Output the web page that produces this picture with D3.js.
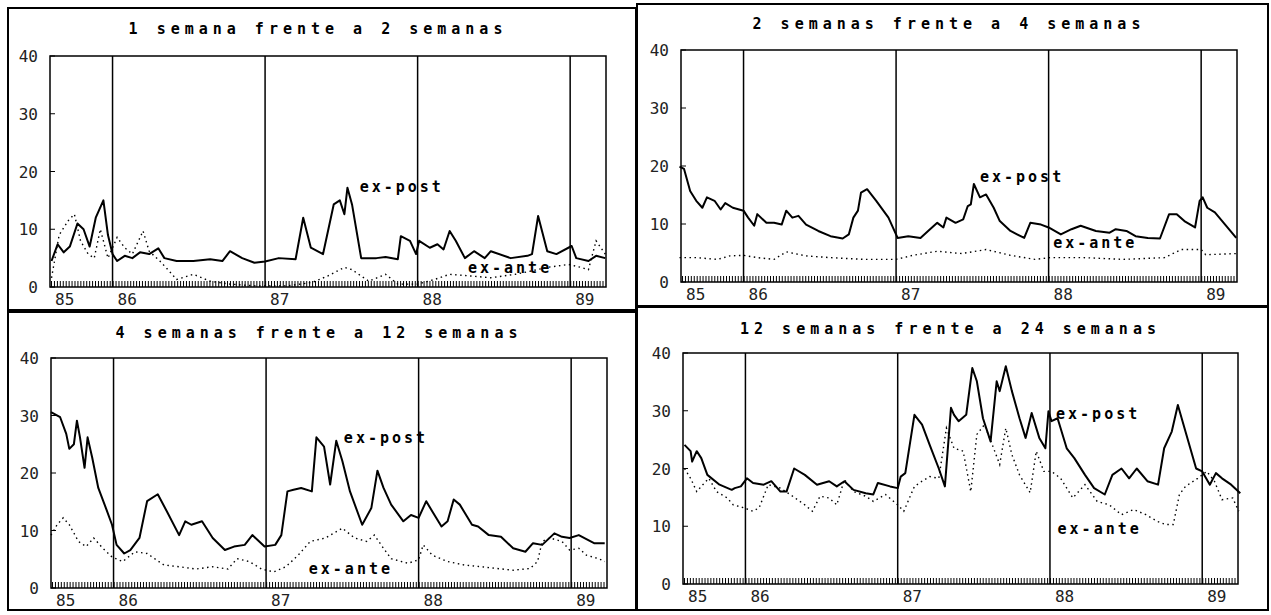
<!DOCTYPE html>
<html lang="es">
<head>
<meta charset="UTF-8">
<title>Primas ex-post / ex-ante</title>
<script src="https://d3js.org/d3.v7.min.js"></script>
<style>
    body { margin: 0; padding: 0; background: #fff; }
    svg { font-family: "DejaVu Sans Mono", monospace; }
    .title { font-size: 15px; font-weight: bold; letter-spacing: 5px; }
    .tick-label { font-size: 16px; fill: #222; }
    .ex-post { fill: none; stroke: #000; stroke-width: 2px; stroke-linejoin: round; }
    .ex-ante { fill: none; stroke: #000; stroke-width: 1.4px; stroke-dasharray: 1.5 3.5; }
    .note { font-size: 15px; font-weight: bold; letter-spacing: 3px; }
</style>
</head>
<body>
<div id="chart"></div>
<script>
    const yearTicks = [1986, 1987, 1988, 1989];
    const yearLabels = ["85", "86", "87", "88", "89"];
    const valueTicks = [0, 10, 20, 30, 40];
    const titles = [
        "1 semana frente a 2 semanas",
        "2 semanas frente a 4 semanas",
        "4 semanas frente a 12 semanas",
        "12 semanas frente a 24 semanas"
    ];

    // [decimal year, value]
    const expost1 = [[85.60,4.5],[85.64,7.4],[85.68,6],[85.72,7],[85.77,11],[85.81,10],[85.85,7],[85.89,12],[85.94,15],[85.97,9],
        [86.00,5.7],[86.03,4.5],[86.08,5.4],[86.13,5],[86.18,6],[86.24,5.7],[86.30,6.7],[86.34,5],[86.42,4.5],[86.53,4.5],
        [86.64,4.8],[86.72,4.5],[86.77,6.2],[86.85,5],[86.93,4.2],[87.00,4.4],[87.09,5],[87.20,4.8],[87.25,12],[87.30,6.8],
        [87.38,5.7],[87.45,14.3],[87.49,15],[87.52,12.6],[87.54,17.2],[87.57,14.3],[87.63,5],[87.73,5],[87.79,5.2],[87.87,4.8],
        [87.89,8.8],[87.95,8],[87.99,5.7],[88.01,8],[88.08,6.8],[88.13,7.4],[88.17,6.5],[88.21,9.7],[88.25,8],[88.31,5],
        [88.37,6.2],[88.44,5],[88.48,6.2],[88.61,5],[88.72,5.4],[88.75,5.7],[88.79,12.3],[88.85,6.2],[88.91,5.7],[89.01,7.1],
        [89.04,5],[89.12,4.5],[89.17,5.4],[89.23,5]];
    const exante1 = [[85.60,1.6],[85.65,9],[85.71,11.5],[85.75,12.6],[85.79,8],[85.84,5.7],[85.88,5],[85.92,10],[85.97,5],
        [86.03,8.6],[86.08,6.8],[86.13,5.7],[86.20,9.7],[86.24,6.2],[86.31,4.5],[86.37,2.8],[86.42,1.3],[86.53,2.2],[86.64,1],
        [86.77,0.5],[86.93,0.2],[87.15,0.2],[87.31,0.8],[87.41,1.9],[87.52,3.4],[87.57,3],[87.68,1],[87.79,2.2],[87.87,0.5],
        [88.00,0.5],[88.11,1.3],[88.21,2.2],[88.35,1.9],[88.48,1.6],[88.64,2.2],[88.75,2.8],[88.85,3.4],[88.99,3.9],[89.07,3.4],
        [89.12,3],[89.17,8],[89.23,5.7]];

    const expost2 = [[85.58,19.9],[85.61,19.5],[85.65,15.7],[85.69,14],[85.73,12.8],[85.76,14.6],[85.81,14],[85.85,12.5],[85.88,13.6],[85.93,12.8],
        [86.00,12.3],[86.03,11.1],[86.07,9.7],[86.09,11.7],[86.15,10.2],[86.20,10.2],[86.25,9.9],[86.28,12.3],[86.32,11.1],[86.36,11.4],
        [86.41,9.9],[86.49,8.8],[86.57,7.9],[86.65,7.5],[86.69,8.2],[86.72,11.1],[86.75,12.3],[86.77,15.4],[86.81,16],[86.87,14],
        [86.95,11.1],[87.01,7.6],[87.08,7.9],[87.16,7.6],[87.21,8.8],[87.27,10.2],[87.31,9.4],[87.33,11.1],[87.39,10.2],[87.44,10.8],
        [87.47,13.1],[87.49,13.4],[87.51,16.9],[87.55,14.6],[87.59,15.1],[87.64,12.8],[87.68,10.5],[87.75,8.8],[87.84,7.6],[87.88,10.2],
        [87.95,9.9],[88.00,9.4],[88.08,8.2],[88.15,9.1],[88.21,9.7],[88.31,8.8],[88.40,8.5],[88.44,9.1],[88.51,8.8],[88.57,7.9],
        [88.65,7.6],[88.73,7.5],[88.79,11.7],[88.84,11.7],[88.89,10.5],[88.96,9.4],[88.99,14],[89.01,14.6],[89.04,12.8],[89.09,12],[89.23,7.6]];
    const exante2 = [[85.58,4.2],[85.69,4.2],[85.83,3.9],[85.91,4.5],[86.00,4.6],[86.09,4.2],[86.20,3.9],[86.28,5.2],[86.41,4.5],
        [86.57,4.2],[86.79,3.9],[87.00,3.9],[87.11,4.6],[87.27,5.3],[87.43,4.9],[87.59,5.6],[87.75,4.6],[87.91,3.9],[88.01,4.2],
        [88.23,4.2],[88.49,3.9],[88.76,4.2],[88.87,5.6],[89.00,5.6],[89.03,4.7],[89.23,4.9]];

    const expost3 = [[85.59,30.6],[85.65,29.7],[85.69,26.8],[85.71,24.2],[85.74,25],[85.76,29.1],[85.78,26.2],[85.81,20.9],[85.83,26.2],[85.86,22.7],
        [85.90,17.4],[85.95,13.9],[85.99,11],[86.02,7.5],[86.07,6],[86.11,6.6],[86.17,8.7],[86.22,15.1],[86.29,16.3],[86.35,13.3],
        [86.43,9.2],[86.47,11.6],[86.51,11],[86.58,11.6],[86.65,8.7],[86.73,6.6],[86.79,7.2],[86.86,7.5],[86.91,9.2],[86.99,7.2],
        [87.06,7.5],[87.10,9.2],[87.14,16.8],[87.18,17.1],[87.23,17.4],[87.30,16.8],[87.33,26.2],[87.38,24.6],[87.42,18],[87.46,25.6],
        [87.50,22.1],[87.55,16.8],[87.63,11],[87.69,13.9],[87.73,20.4],[87.77,17.4],[87.82,14.5],[87.90,11.6],[87.95,12.7],[88.00,12.2],
        [88.05,15.1],[88.09,13.3],[88.15,10.7],[88.19,11.6],[88.23,15.4],[88.27,14.5],[88.35,11],[88.39,10.7],[88.46,9.2],[88.54,8.9],
        [88.62,6.9],[88.70,6.3],[88.75,7.8],[88.81,7.5],[88.89,9.5],[88.94,8.9],[88.99,8.7],[89.05,9.2],[89.15,7.8],[89.22,7.8]];
    const exante3 = [[85.59,9.2],[85.63,11],[85.67,12.2],[85.71,11],[85.77,8.1],[85.82,7.2],[85.87,8.7],[85.93,6.9],[85.99,5.4],
        [86.06,4.6],[86.14,6.3],[86.22,6],[86.33,4],[86.43,3.7],[86.54,3.3],[86.65,3.7],[86.75,3.3],[86.81,5.1],[86.89,4.6],
        [86.97,3.3],[87.05,2.8],[87.13,3.7],[87.21,5.7],[87.29,8.1],[87.39,8.7],[87.50,10.4],[87.58,8.7],[87.66,8.1],[87.71,9.2],
        [87.77,6.9],[87.82,5.1],[87.93,4.3],[88.00,4.9],[88.03,7.5],[88.09,5.7],[88.19,4.6],[88.30,4],[88.41,3.7],[88.51,3.4],
        [88.62,3.1],[88.73,3.4],[88.78,4.6],[88.81,8.1],[88.86,8.7],[88.94,8.1],[88.99,6.6],[89.05,6.9],[89.10,5.7],[89.18,5.1],[89.22,4.6]];

    const expost4 = [[85.60,24.1],[85.64,23],[85.65,21.2],[85.68,23],[85.71,21.8],[85.75,18.9],[85.83,17.2],[85.91,16.3],[85.93,16.6],[85.97,16.9],
        [86.01,18.3],[86.05,17.5],[86.12,17.2],[86.17,17.8],[86.23,16],[86.27,16],[86.32,20],[86.39,18.9],[86.47,17.2],[86.55,17.8],
        [86.60,16.9],[86.65,17.8],[86.71,16.3],[86.79,15.7],[86.84,15.5],[86.87,17.5],[86.95,16.9],[87.00,16.6],[87.02,18.6],[87.05,19.2],
        [87.11,29.3],[87.16,27.6],[87.21,24.1],[87.27,20],[87.31,16.9],[87.35,30.5],[87.37,29.3],[87.40,28.2],[87.45,29.3],[87.49,37.4],
        [87.52,35.1],[87.56,28.7],[87.61,24.7],[87.65,35.1],[87.67,33.4],[87.71,37.7],[87.75,33.4],[87.80,28.7],[87.84,25.3],[87.88,29.6],
        [87.93,25.3],[87.97,23.5],[87.99,29.9],[88.01,28.2],[88.05,28.7],[88.11,23.5],[88.16,21.8],[88.23,18.9],[88.29,16.6],[88.36,15.5],
        [88.41,18.9],[88.47,20],[88.52,18.3],[88.57,20],[88.64,17.8],[88.71,17.2],[88.75,23.5],[88.80,26.4],[88.84,31],[88.89,26.4],
        [88.96,20],[89.00,19.5],[89.05,17.2],[89.09,19.2],[89.13,18.3],[89.19,17.2],[89.25,15.7]];
    const exante4 = [[85.60,20],[85.64,18.3],[85.68,16],[85.72,17.2],[85.76,18.3],[85.81,16],[85.88,14.9],[85.92,13.7],[85.99,13.2],
        [86.05,12.6],[86.09,13.2],[86.15,17.2],[86.23,16.6],[86.31,15.2],[86.39,13.7],[86.44,12.6],[86.49,15.2],[86.55,14.9],[86.60,13.7],
        [86.65,18.1],[86.71,16],[86.79,15.2],[86.84,14.3],[86.92,15.5],[87.00,13.7],[87.04,12.6],[87.11,16.9],[87.16,17.8],[87.21,18.6],
        [87.27,18.3],[87.32,27],[87.37,23.5],[87.43,23],[87.48,16],[87.52,25.9],[87.57,27.6],[87.63,23.5],[87.67,20.7],[87.71,27],
        [87.75,22.4],[87.80,18.9],[87.87,15.8],[87.91,23],[87.96,19.5],[88.01,19.5],[88.07,18.3],[88.15,14.9],[88.23,17.2],[88.31,14.3],
        [88.39,13.7],[88.47,12],[88.55,12.9],[88.63,12],[88.71,10.8],[88.76,10.3],[88.81,10.3],[88.85,15.5],[88.89,16.9],[88.97,18.3],
        [89.03,19.5],[89.08,17.8],[89.13,14.6],[89.20,14.9],[89.24,12.6]];

    const panels = [
        { title: titles[0], post: expost1, ante: exante1, box: [8, 8, 628, 302], plot: [50, 56, 606, 287], titleY: 34,
          notes: [["ex-post", 87.62, 16.4], ["ex-ante", 88.33, 2.4]] },
        { title: titles[1], post: expost2, ante: exante2, box: [637, 4, 631, 302], plot: [681, 50, 1237, 282], titleY: 29,
          notes: [["ex-post", 87.55, 17.3], ["ex-ante", 88.03, 5.8]] },
        { title: titles[2], post: expost3, ante: exante3, box: [8, 312, 628, 298], plot: [51, 358, 607, 588], titleY: 338,
          notes: [["ex-post", 87.51, 25.2], ["ex-ante", 87.28, 2.5]] },
        { title: titles[3], post: expost4, ante: exante4, box: [637, 307, 631, 303], plot: [683, 353, 1238, 584], titleY: 334,
          notes: [["ex-post", 88.04, 28.6], ["ex-ante", 88.05, 8.6]] }
    ];

    const svg = d3.select("#chart").append("svg")
        .attr("width", 1271).attr("height", 615);

    panels.forEach(p => {
        const [x0, y0, x1, y1] = p.plot;
        const x = d3.scaleLinear().domain([1985.59, 1989.235]).range([x0, x1]);
        const y = d3.scaleLinear().domain([0, 40]).range([y1, y0]);
        const g = svg.append("g");

        g.append("rect")
            .attr("x", p.box[0]).attr("y", p.box[1])
            .attr("width", p.box[2]).attr("height", p.box[3])
            .attr("fill", "none").attr("stroke", "#000").attr("stroke-width", 2);

        g.append("text").attr("class", "title")
            .attr("x", (x0 + x1) / 2 - 10).attr("y", p.titleY)
            .attr("text-anchor", "middle").text(p.title);

        // plot frame
        g.append("rect")
            .attr("x", x0).attr("y", y0).attr("width", x1 - x0).attr("height", y1 - y0)
            .attr("fill", "none").attr("stroke", "#000").attr("stroke-width", 1.5);

        // year separators
        g.selectAll(".yr").data(yearTicks).enter().append("line")
            .attr("x1", d => x(d)).attr("x2", d => x(d))
            .attr("y1", y0).attr("y2", y1)
            .attr("stroke", "#000").attr("stroke-width", 1.5);

        // weekly ticks along the bottom
        const weeks = d3.range(1985.60, 1989.23, 1 / 52);
        g.selectAll(".wk").data(weeks).enter().append("line")
            .attr("x1", d => x(d)).attr("x2", d => x(d))
            .attr("y1", y1).attr("y2", y1 - 6)
            .attr("stroke", "#000").attr("stroke-width", 1);

        // y axis labels
        g.selectAll(".vt").data(valueTicks).enter().append("line")
            .attr("x1", x0).attr("x2", x0 + 5)
            .attr("y1", d => y(d)).attr("y2", d => y(d))
            .attr("stroke", "#000");
        g.selectAll(".vl").data(valueTicks).enter().append("text")
            .attr("class", "tick-label")
            .attr("x", x0 - 12).attr("y", d => y(d) + 6)
            .attr("text-anchor", "end").text(d => d);

        // year labels
        const labelYears = [1985.59].concat(yearTicks);
        g.selectAll(".yl").data(labelYears).enter().append("text")
            .attr("class", "tick-label")
            .attr("x", d => x(d) + 5).attr("y", y1 + 18)
            .text((d, i) => yearLabels[i]);

        const line = d3.line().x(d => x(1900 + d[0])).y(d => y(d[1]));
        g.append("path").attr("class", "ex-ante").attr("d", line(p.ante));
        g.append("path").attr("class", "ex-post").attr("d", line(p.post));

        g.selectAll(".note").data(p.notes).enter().append("text")
            .attr("class", "note")
            .attr("x", d => x(1900 + d[1])).attr("y", d => y(d[2]))
            .text(d => d[0]);
    });
</script>
</body>
</html>
